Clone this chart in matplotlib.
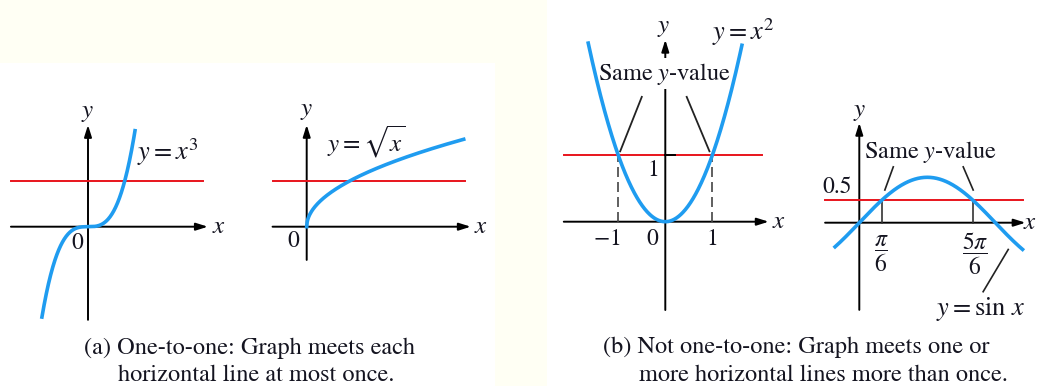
import numpy as np
import matplotlib.pyplot as plt
from matplotlib.patches import Rectangle

plt.rcParams['font.family'] = 'STIXGeneral'
plt.rcParams['mathtext.fontset'] = 'stix'

W, H = 1038, 386
BLUE = '#1f9cf0'
RED = '#e8141c'
INK = '#141420'
CREAM = '#fffff4'

# curve samples (x ranges)
x_cube = np.linspace(-0.98, 1.0, 300)
y_cube = x_cube ** 3
x_sqrt = np.linspace(0.0, 4.0, 300)
y_sqrt = np.sqrt(x_sqrt)
x_sq = np.linspace(-1.64, 1.63, 300)
y_sq = x_sq ** 2
x_sin = np.linspace(-0.56, 3.77, 300)
y_sin = np.sin(x_sin)

# horizontal test lines
red_cube = 0.48
red_sqrt = 1.05
red_sq = 1.0
red_sin = 0.5

# marked x values
sq_marks = [-1, 1]
sin_marks = [np.pi / 6, 5 * np.pi / 6]


def panel(fig, ox, oy, sx, sy):
    # axes covering the whole figure, origin at pixel (ox, oy)
    ax = fig.add_axes([0, 0, 1, 1])
    ax.set_xlim(-ox / sx, (W - ox) / sx)
    ax.set_ylim(-(H - oy) / sy, oy / sy)
    ax.axis('off')
    return ax


def arrows(ax, x0, x1, y0, y1):
    kw = dict(arrowstyle='-|>,head_length=0.7,head_width=0.22', color='black',
              lw=1.4, shrinkA=0, shrinkB=0)
    ax.annotate('', xy=(x1, 0), xytext=(x0, 0), arrowprops=kw, zorder=2)
    ax.annotate('', xy=(0, y1), xytext=(0, y0), arrowprops=kw, zorder=2)


def lbl(ax, x, y, s, size=17, **kw):
    kw.setdefault('ha', 'center')
    kw.setdefault('va', 'center')
    ax.text(x, y, s, fontsize=size, color=INK, **kw)


fig = plt.figure(figsize=(W / 100, H / 100), dpi=100)
bg = fig.add_axes([0, 0, 1, 1])
bg.set_xlim(0, W)
bg.set_ylim(H, 0)
bg.axis('off')
bg.add_patch(Rectangle((0, 0), 547, 63, color=CREAM, lw=0))
bg.add_patch(Rectangle((495, 0), 52, H, color=CREAM, lw=0))

# (a) y = x^3
ax = panel(fig, 88, 226.7, 47, 96)
arrows(ax, -1.64, 2.55, -0.97, 1.06)
ax.plot([-1.64, 2.45], [red_cube, red_cube], color=RED, lw=1.4, zorder=3)
ax.plot(x_cube, y_cube, color=BLUE, lw=2.6, zorder=4)
lbl(ax, 0, 1.2, '$y$', 18)
lbl(ax, 2.78, 0, '$x$', 18)
lbl(ax, -0.23, -0.17, '0', 17)
lbl(ax, 1.04, 0.78, '$y = x^3$', 19, ha='left')

# (a) y = sqrt(x)
ax = panel(fig, 306.7, 226.7, 39.25, 43.7)
arrows(ax, -0.87, 4.18, -0.76, 2.33)
ax.plot([-0.87, 4.03], [red_sqrt, red_sqrt], color=RED, lw=1.4, zorder=3)
ax.plot(x_sqrt, y_sqrt, color=BLUE, lw=2.6, zorder=4)
lbl(ax, 0, 2.66, '$y$', 18)
lbl(ax, 4.43, 0, '$x$', 18)
lbl(ax, -0.35, -0.34, '0', 17)
lbl(ax, 0.52, 1.95, r'$y = \sqrt{x}$', 18, ha='left')

# (b) y = x^2
ax = panel(fig, 665.3, 221.7, 47, 66.4)
arrows(ax, -2.16, 2.2, -1.33, 2.74)
ax.plot([-2.16, 2.05], [red_sq, red_sq], color=RED, lw=1.4, zorder=3)
ax.plot([0, 0.21], [red_sq, red_sq], color='black', lw=1.4, zorder=3.5)
for m in sq_marks:
    ax.plot([m, m], [0, red_sq], color='#444444', lw=1.2, ls=(0, (6, 3)), zorder=2.5)
ax.plot(x_sq, y_sq, color=BLUE, lw=2.6, zorder=4)
lbl(ax, -0.03, 2.93, '$y$', 18)
lbl(ax, 0.99, 2.86, '$y = x^2$', 19, ha='left')
lbl(ax, 2.42, 0, '$x$', 18)
ax.text(-0.02, 2.23, 'Same $y$-value', fontsize=17.5, color=INK, ha='center', va='center',
        zorder=3.8, bbox=dict(facecolor='white', edgecolor='none', pad=1.5))
ax.plot([-0.50, -0.96], [1.88, 1.06], color='#222222', lw=1.3, zorder=3)
ax.plot([0.455, 0.94], [1.88, 1.06], color='#222222', lw=1.3, zorder=3)
lbl(ax, -1.25, -0.27, '$-1$', 17)
lbl(ax, -0.27, -0.27, '0', 17)
lbl(ax, 0.99, -0.27, '1', 17)
lbl(ax, -0.26, 0.78, '1', 17)

# (b) y = sin x
ax = panel(fig, 859.3, 222.7, 43.3, 45.4)
arrows(ax, -0.79, 3.84, -1.92, 2.2)
ax.plot([-0.79, 3.77], [red_sin, red_sin], color=RED, lw=1.4, zorder=3)
for m in sin_marks:
    ax.plot([m, m], [0, red_sin], color='#333333', lw=1.2, zorder=2.5)
ax.plot(x_sin, y_sin, color=BLUE, lw=2.6, zorder=4)
lbl(ax, 0, 2.46, '$y$', 18)
lbl(ax, 3.94, 0, '$x$', 18)
lbl(ax, -0.52, 0.77, '0.5', 17)
lbl(ax, 0.52, -0.68, r'$\dfrac{\pi}{6}$', 17)
lbl(ax, 2.67, -0.68, r'$\dfrac{5\pi}{6}$', 17)
lbl(ax, 1.64, 1.56, 'Same $y$-value', 17.5)
ax.plot([0.785, 0.59], [1.23, 0.72], color='#222222', lw=1.2, zorder=3)
ax.plot([2.40, 2.63], [1.23, 0.72], color='#222222', lw=1.2, zorder=3)
lbl(ax, 2.79, -1.9, r'$y = \sin\,x$', 19)
ax.plot([2.86, 3.44], [-1.52, -0.59], color='#222222', lw=1.2, zorder=3)

# captions
bg.text(249, 348, '(a) One-to-one: Graph meets each', fontsize=17.5, color=INK,
        ha='center', va='center')
bg.text(256, 375, 'horizontal line at most once.', fontsize=17.5, color=INK,
        ha='center', va='center')
bg.text(796, 347, '(b) Not one-to-one: Graph meets one or', fontsize=17.5, color=INK,
        ha='center', va='center')
bg.text(823, 375, 'more horizontal lines more than once.', fontsize=17.5, color=INK,
        ha='center', va='center')

fig.savefig('out.png', dpi=100)
